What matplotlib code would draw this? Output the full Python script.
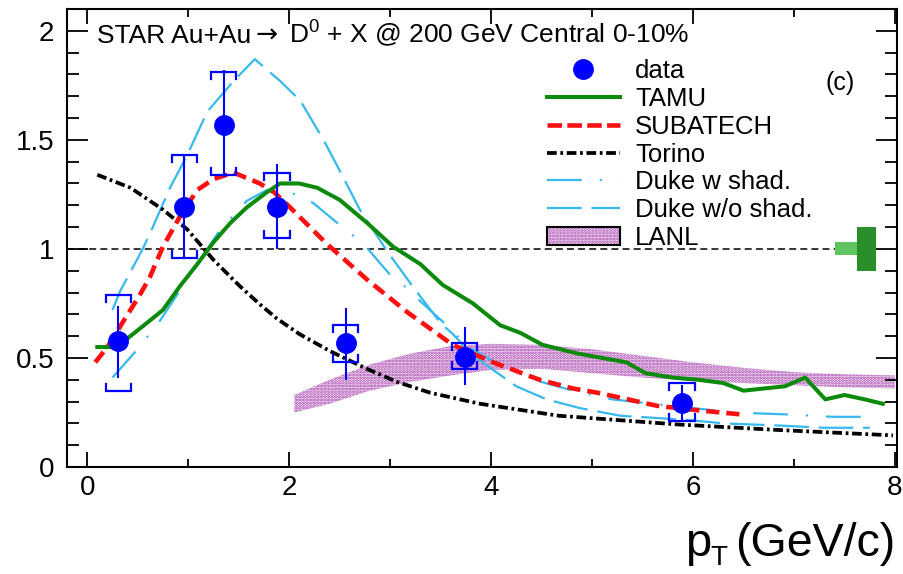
import matplotlib
matplotlib.use('Agg')
import matplotlib.pyplot as plt
from matplotlib.patches import Patch, Rectangle
from matplotlib.lines import Line2D
from matplotlib.legend_handler import HandlerTuple
from matplotlib.ticker import MultipleLocator, FuncFormatter

plt.rcParams['font.family'] = ['Liberation Sans', 'DejaVu Sans']
plt.rcParams['mathtext.fontset'] = 'custom'
plt.rcParams['mathtext.rm'] = 'Liberation Sans'
plt.rcParams['mathtext.it'] = 'Liberation Sans:italic'
plt.rcParams['lines.scale_dashes'] = False
plt.rcParams['hatch.linewidth'] = 1.4

# ---------------- data ----------------
data_x = [0.31, 0.96, 1.35, 1.88, 2.56, 3.74, 5.89]
data_y = [0.58, 1.19, 1.57, 1.19, 0.57, 0.505, 0.295]
stat_lo = [0.17, 0.23, 0.24, 0.19, 0.17, 0.13, 0.08]
stat_hi = [0.16, 0.24, 0.25, 0.20, 0.16, 0.135, 0.08]
sys_lo = [0.23, 0.23, 0.23, 0.14, 0.09, 0.055, 0.085]
sys_hi = [0.21, 0.24, 0.24, 0.16, 0.08, 0.065, 0.09]

tamu_x = [0.10, 0.26, 0.40, 0.59, 0.75, 0.92, 1.09, 1.25, 1.42, 1.58, 1.78, 1.91, 2.10, 2.28,
          2.50, 2.77, 3.03, 3.30, 3.52, 3.82, 4.09, 4.29, 4.51, 4.86, 5.10, 5.34, 5.53, 5.80,
          6.05, 6.30, 6.50, 6.70, 6.91, 7.11, 7.31, 7.50, 7.70, 7.88]
tamu_y = [0.55, 0.55, 0.59, 0.66, 0.72, 0.83, 0.93, 1.03, 1.12, 1.19, 1.26, 1.30, 1.30, 1.28,
          1.225, 1.12, 1.01, 0.93, 0.835, 0.75, 0.65, 0.615, 0.56, 0.52, 0.50, 0.48, 0.43, 0.41,
          0.40, 0.385, 0.35, 0.36, 0.37, 0.41, 0.31, 0.33, 0.31, 0.29]

subatech_x = [0.08, 0.20, 0.36, 0.51, 0.62, 0.75, 0.92, 1.09, 1.25, 1.45, 1.71, 1.85, 2.01,
              2.38, 2.77, 3.17, 3.47, 3.62, 4.02, 4.48, 4.81, 5.06, 5.65, 6.05, 6.50]
subatech_y = [0.48, 0.55, 0.67, 0.78, 0.87, 1.01, 1.15, 1.27, 1.32, 1.35, 1.30, 1.26, 1.19,
              1.02, 0.86, 0.71, 0.61, 0.56, 0.48, 0.40, 0.36, 0.34, 0.28, 0.26, 0.24]

torino_x = [0.10, 0.43, 0.75, 0.99, 1.25, 1.51, 1.70, 1.88, 2.10, 2.41, 2.77, 3.07, 3.40, 3.89,
            4.67, 5.85, 6.83, 7.98]
torino_y = [1.34, 1.28, 1.18, 1.09, 0.95, 0.83, 0.75, 0.68, 0.61, 0.53, 0.45, 0.39, 0.34, 0.29,
            0.235, 0.195, 0.17, 0.145]

duke_shad_x = [0.25, 0.48, 0.72, 0.99, 1.32, 1.58, 1.78, 2.08, 2.24, 2.50, 2.65, 2.78, 3.02,
               3.17, 3.30, 3.56, 3.75, 4.00, 4.22, 4.50, 4.81, 5.20, 5.70, 6.40, 6.99, 7.39, 7.75]
duke_shad_y = [0.41, 0.53, 0.67, 0.86, 1.09, 1.22, 1.27, 1.25, 1.21, 1.11, 1.055, 1.00, 0.87,
               0.82, 0.76, 0.65, 0.56, 0.49, 0.44, 0.39, 0.35, 0.31, 0.285, 0.25, 0.24, 0.23, 0.23]

duke_noshad_x = [0.25, 0.33, 0.55, 0.64, 0.82, 0.99, 1.19, 1.45, 1.66, 1.91, 2.11, 2.34, 2.50,
                 2.70, 2.97, 3.22, 3.50, 3.62, 3.80, 4.02, 4.25, 4.55, 4.88, 5.28, 5.97, 6.30,
                 6.86, 7.29, 7.75]
duke_noshad_y = [0.72, 0.81, 1.00, 1.09, 1.28, 1.43, 1.63, 1.77, 1.87, 1.77, 1.68, 1.50, 1.36,
                 1.18, 0.99, 0.83, 0.66, 0.61, 0.52, 0.445, 0.37, 0.31, 0.27, 0.235, 0.215, 0.20,
                 0.19, 0.18, 0.18]

lanl_x = [2.05, 2.40, 2.80, 3.20, 3.60, 4.00, 4.50, 5.00, 5.50, 6.00, 6.50, 7.00, 7.50, 8.00]
lanl_hi = [0.33, 0.40, 0.47, 0.52, 0.555, 0.565, 0.56, 0.54, 0.51, 0.48, 0.455, 0.435, 0.425, 0.42]
lanl_lo = [0.25, 0.29, 0.35, 0.39, 0.42, 0.445, 0.45, 0.43, 0.41, 0.395, 0.385, 0.375, 0.365, 0.36]

# normalisation uncertainties at unity (half heights)
norm_ref = 1.0
norm_unc_light = 0.03
norm_unc_dark = 0.10

legend_labels = ['data', 'TAMU', 'SUBATECH', 'Torino', 'Duke w shad.', 'Duke w/o shad.', 'LANL']
title_parts = ['STAR Au+Au', '\u2192', 'D$^{\\mathregular{0}}$ + X @ 200 GeV Central 0-10%']
xlabel_parts = ['p', 'T', '(GeV/c)']

# ---------------- styles ----------------
BLUE = '#0000ff'
GREEN = '#0b8a0b'
RED = '#ff1010'
CYAN = '#36b9ee'
MAG = '#a030a8'
LGREEN = '#5fc45f'
DGREEN = '#2a8f2a'

W, H = 904, 574
fig = plt.figure(figsize=(W/100, H/100), dpi=100)
ax = fig.add_axes([67/W, 1-467/H, (897-67)/W, (467-9)/H])
ax.set_xlim(-0.2, 8.02)
ax.set_ylim(0, 2.1)

# LANL band
ax.fill_between(lanl_x, lanl_lo, lanl_hi, facecolor='none', edgecolor=MAG,
                hatch='......', linewidth=0, zorder=1)

# unity line
ax.plot([-0.2, 7.41], [norm_ref, norm_ref], color='black', lw=1.1, dashes=(5, 3), zorder=2)

# normalisation boxes
ax.add_patch(Rectangle((7.41, norm_ref - norm_unc_light), 0.21, 2*norm_unc_light,
                       facecolor=LGREEN, edgecolor='none', zorder=3))
ax.add_patch(Rectangle((7.62, norm_ref - norm_unc_dark), 0.19, 2*norm_unc_dark,
                       facecolor=DGREEN, edgecolor='none', zorder=3))

# model curves
ax.plot(duke_noshad_x, duke_noshad_y, color=CYAN, lw=1.6, dashes=(25, 7), zorder=4)
ax.plot(duke_shad_x, duke_shad_y, color=CYAN, lw=1.6, dashes=(25, 13, 1.5, 13), zorder=4)
ax.plot(torino_x, torino_y, color='black', lw=2.7, dashes=(7, 2.6, 2, 2.6), zorder=5)
ax.plot(subatech_x, subatech_y, color=RED, lw=3.3, dashes=(9.5, 5), zorder=5)
ax.plot(tamu_x, tamu_y, color=GREEN, lw=2.9, zorder=5)

# data: systematic brackets
bw = 0.125
leg = 0.032
for x, y, lo, hi in zip(data_x, data_y, sys_lo, sys_hi):
    ax.plot([x - bw, x - bw, x + bw, x + bw], [y + hi - leg, y + hi, y + hi, y + hi - leg],
            color=BLUE, lw=1.6, zorder=6, solid_joinstyle='miter')
    ax.plot([x - bw, x - bw, x + bw, x + bw], [y - lo + leg, y - lo, y - lo, y - lo + leg],
            color=BLUE, lw=1.6, zorder=6, solid_joinstyle='miter')
# data: points with stat errors
ax.errorbar(data_x, data_y, yerr=[stat_lo, stat_hi], fmt='o', color=BLUE, ms=14,
            elinewidth=1.5, capsize=0, zorder=7)

# axes styling
for s in ax.spines.values():
    s.set_linewidth(1.5)
ax.xaxis.set_major_locator(MultipleLocator(2))
ax.xaxis.set_minor_locator(MultipleLocator(1))
ax.yaxis.set_major_locator(MultipleLocator(0.5))
ax.yaxis.set_minor_locator(MultipleLocator(0.1))
ax.tick_params(which='both', direction='in', top=True, right=True, width=1.3, labelsize=20)
ax.tick_params(axis='x', which='major', length=10.5, pad=6)
ax.tick_params(axis='x', which='minor', length=5.5)
ax.tick_params(axis='y', which='major', length=15, pad=9)
ax.tick_params(axis='y', which='minor', length=8.5)
ax.yaxis.set_major_formatter(FuncFormatter(lambda v, p: f'{v:g}'))

# legend
handles = [
    Line2D([], [], marker='o', ls='none', color=BLUE, ms=14),
    Line2D([], [], color=GREEN, lw=2.9),
    Line2D([], [], color=RED, lw=3.3, dashes=(10.5, 3.8)),
    Line2D([], [], color='black', lw=2.7, dashes=(7, 2.6, 2, 2.6)),
    Line2D([], [], color=CYAN, lw=1.6, dashes=(25, 13, 1.5, 13)),
    Line2D([], [], color=CYAN, lw=1.6, dashes=(25, 7)),
    (Patch(facecolor='none', edgecolor=MAG, hatch='......', lw=0),
     Patch(facecolor='none', edgecolor='black', lw=1.5)),
]
ax.legend(handles, legend_labels, loc='upper left', bbox_to_anchor=(547/W, 1 - 59/H),
          bbox_transform=fig.transFigure, frameon=False, fontsize=18.5, borderpad=0,
          borderaxespad=0, handlelength=2.84, handletextpad=0.58, labelspacing=0.15,
          handler_map={tuple: HandlerTuple(ndivide=1)})

# title made of pieces (arrow from DejaVu Sans, which has a wide arrow glyph)
renderer = fig.canvas.get_renderer()
ty = 1 - 43/H
t1 = fig.text(97/W, ty, title_parts[0], fontsize=19, ha='left', va='baseline')
x1 = t1.get_window_extent(renderer).x1
t2 = fig.text((x1 + 4)/W, ty, title_parts[1], fontsize=19, family='DejaVu Sans',
              ha='left', va='baseline')
x2 = t2.get_window_extent(renderer).x1
fig.text((x2 + 12)/W, ty, title_parts[2], fontsize=19, ha='left', va='baseline')

fig.text(840/W, 1 - 83/H, '(c)', fontsize=18, ha='center', va='center')

# x-axis label: p, subscript T, (GeV/c)
fig.text(685/W, 18/H, xlabel_parts[0], fontsize=34, ha='left', va='baseline')
fig.text(710/W, 9/H, xlabel_parts[1], fontsize=20, ha='left', va='baseline')
fig.text(895/W, 18/H, xlabel_parts[2], fontsize=33.5, ha='right', va='baseline')

fig.savefig('out.png', dpi=100)
